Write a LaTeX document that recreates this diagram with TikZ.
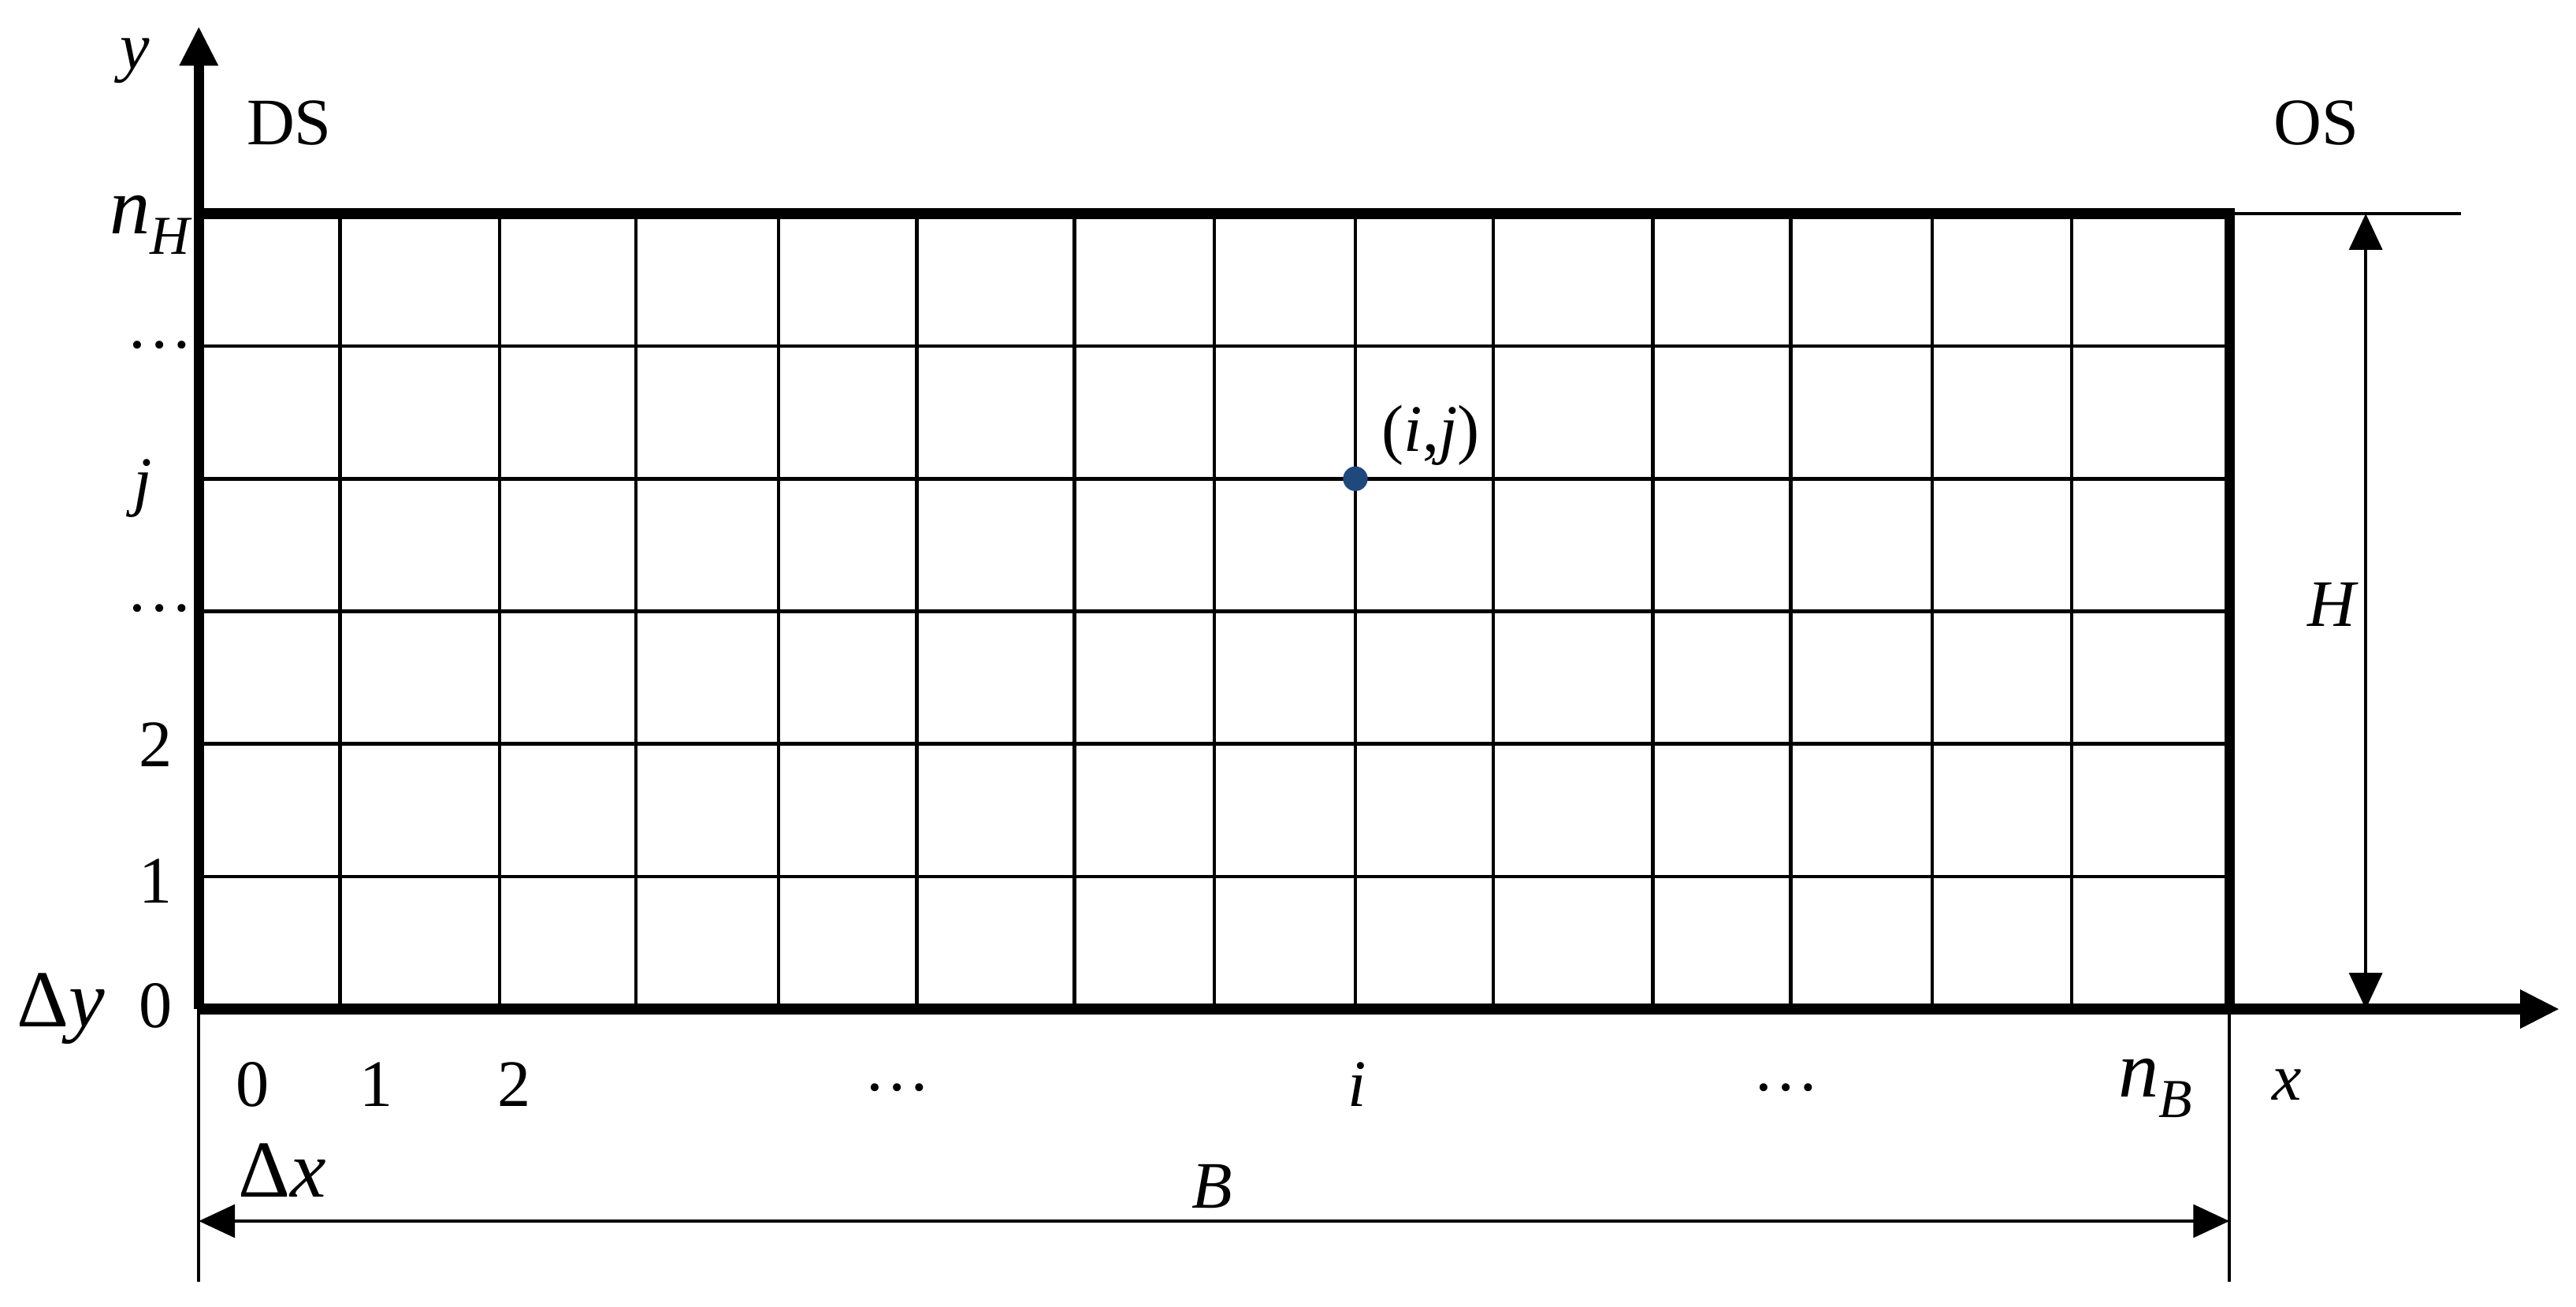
\documentclass[tikz,border=0pt]{standalone}
\usepackage{fontspec}
\setmainfont{Liberation Serif}
\usetikzlibrary{arrows.meta}
\definecolor{dotblue}{RGB}{31,73,125}
\tikzset{
  thinline/.style={line width=0.6pt},
  thickline/.style={line width=1.8pt},
  axisarrow/.style={thickline, -{Triangle[length=2.4mm,width=2.2mm]}},
  dimarrow/.style={thinline, {Triangle[length=2.2mm,width=2mm]}-{Triangle[length=2.2mm,width=2mm]}},
  lbl/.style={font=\fontsize{11.5}{13}\selectfont, inner sep=0pt},
  biglbl/.style={font=\fontsize{14}{16}\selectfont, inner sep=0pt},
}
\newcommand{\idx}[2]{\textit{#1}\raisebox{-0.55ex}{\fontsize{9.5}{11}\selectfont\textit{#2}}}

\begin{document}
\begin{tikzpicture}
  \useasboundingbox (-1.21,-1.81) rectangle (14.47,6.14);
  % corners of the mesh
  \coordinate (O) at (0,0);
  \coordinate (TL) at (0,4.84);
  \coordinate (TR) at (12.36,4.84);
  \coordinate (BR) at (12.36,0);
  % mesh lines
  \foreach \r in {1,...,5}
    \draw[thinline] (0,\r*0.8067) -- (12.36,\r*0.8067);
  \foreach \c in {0.86,1.83,2.66,3.53,4.37,5.33,6.18,7.04,7.88,8.85,9.69,10.55,11.40}
    \draw[thinline] (\c,0) -- (\c,4.84);
  % axes and border
  \coordinate (ytip) at (0,5.98);
  \coordinate (xtip) at (14.37,0);
  \draw[axisarrow] (O) -- (ytip);
  \draw[axisarrow] (O) -- (xtip);
  \draw[thickline] (TL) -- (TR) -- (BR);
  \coordinate (topend) at (13.77,4.84);
  \draw[thinline] (TR) -- (topend);
  \coordinate (lfoot) at (0,-1.66);
  \coordinate (rfoot) at (12.36,-1.66);
  \draw[thinline] (O) -- (lfoot);
  \draw[thinline] (BR) -- (rfoot);
  % dimensions
  \coordinate (Bleft) at (0,-1.29);
  \coordinate (Bright) at (12.36,-1.29);
  \draw[dimarrow] (Bleft) -- (Bright);
  \coordinate (Hbot) at (13.19,0);
  \coordinate (Htop) at (13.19,4.84);
  \draw[dimarrow] (Hbot) -- (Htop);
  % node (i,j)
  \fill[dotblue] (7.04,3.227) circle (0.075);
  \node[lbl] (ij) at (7.50,3.49) {(\textit{i},\textit{j})};
  % labels
  \node[lbl] (ylab) at (-0.39,5.77) {\textit{y}};
  \node[lbl] (ds) at (0.55,5.39) {DS};
  \node[lbl] (os) at (12.89,5.39) {OS};
  \node[biglbl] (nh) at (-0.29,4.77) {\idx{n}{H}};
  \node[lbl] (dotsA) at (-0.24,4.04) {…};
  \node[lbl] (jlab) at (-0.34,3.17) {\textit{j}};
  \node[lbl] (dotsB) at (-0.24,2.44) {…};
  \node[lbl] (ytwo) at (-0.26,1.61) {2};
  \node[lbl] (yone) at (-0.26,0.78) {1};
  \node[lbl] (yzero) at (-0.26,0.02) {0};
  \node[biglbl] (dy) at (-0.84,0.0) {Δ\textit{y}};
  \node[lbl] (xzero) at (0.33,-0.46) {0};
  \node[lbl] (xone) at (1.08,-0.46) {1};
  \node[lbl] (xtwo) at (1.92,-0.46) {2};
  \node[lbl] (dotsC) at (4.25,-0.48) {…};
  \node[lbl] (ilab) at (7.05,-0.46) {\textit{i}};
  \node[lbl] (dotsD) at (9.66,-0.48) {…};
  \node[biglbl] (nb) at (11.91,-0.48) {\idx{n}{B}};
  \node[lbl] (xlab) at (12.71,-0.46) {\textit{x}};
  \node[biglbl] (dx) at (0.51,-0.98) {Δ\textit{x}};
  \node[lbl] (blab) at (6.17,-1.08) {\textit{B}};
  \node[lbl] (hlab) at (12.99,2.46) {\textit{H}};
\end{tikzpicture}
\end{document}
